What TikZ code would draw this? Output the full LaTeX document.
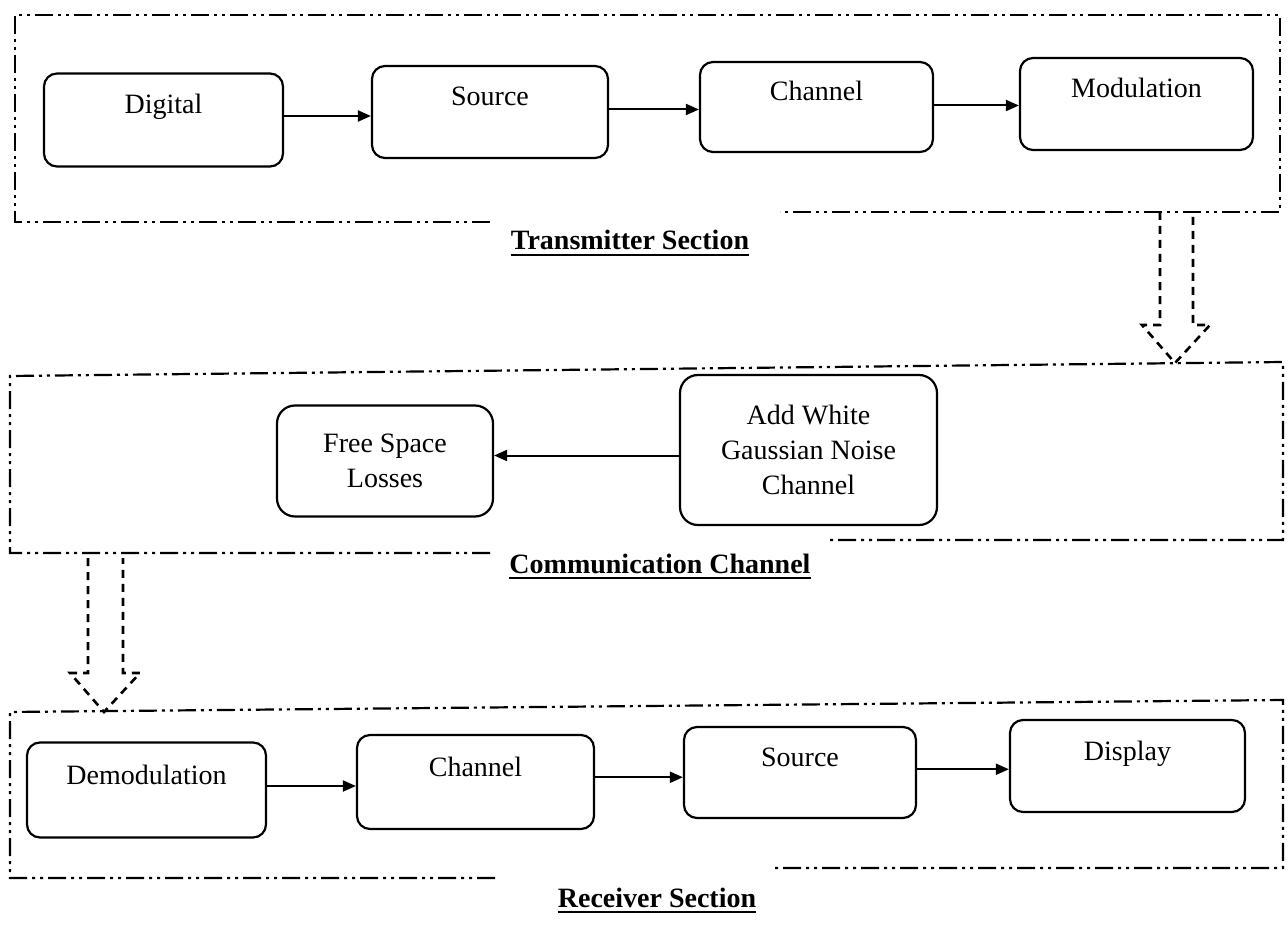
\documentclass[tikz,border=0pt]{standalone}
\usepackage{fontspec}
\setmainfont{Liberation Serif}
\usetikzlibrary{arrows.meta,calc}

\begin{document}
\begin{tikzpicture}[x=1pt, y=-1pt,
  frame/.style={line width=2.2pt, dash pattern=on 18pt off 5pt on 3pt off 5pt on 3pt off 5pt},
  hollowarrow/.style={line width=2.6pt, dash pattern=on 8pt off 6pt, line join=miter},
  block/.style={draw, line width=2.2pt, rounded corners=13pt, inner sep=4pt,
    font=\fontsize{28}{33}\selectfont, text height=19pt, text depth=31pt},
  tallblock/.style={draw, line width=2.2pt, rounded corners=18pt, inner sep=4pt,
    align=center, font=\fontsize{28}{35}\selectfont},
  flow/.style={line width=2pt, -{Triangle[length=13pt, width=11pt]}},
  sectitle/.style={anchor=base, inner xsep=0pt, font=\bfseries\fontsize{28}{32}\selectfont}
]
\useasboundingbox (0,0) rectangle (1288,944);
\fill[white] (0,0) rectangle (1288,944);

% horizontal connector at mid height between two blocks
\newcommand\link[2]{%
  \coordinate (m) at ($(#1.east)!0.5!(#2.west)$);
  \draw[flow] (#1.east |- m) -- (#2.west |- m);}

% ---- Transmitter section ----
\draw[frame] (490,222) -- (15,222) -- (15,15) -- (1280,15) -- (1280,212) -- (780,212);
\node[block, minimum width=239pt, minimum height=93pt] (dig)  at (163.5,120) {Digital};
\node[block, minimum width=236pt, minimum height=92pt] (tsrc) at (490,112)  {Source};
\node[block, minimum width=233pt, minimum height=90pt] (tch)  at (816.5,107) {Channel};
\node[block, minimum width=233pt, minimum height=92pt] (mod)  at (1136.5,104) {Modulation};
\link{dig}{tsrc}
\link{tsrc}{tch}
\link{tch}{mod}
\node[sectitle] (ttl) at (630,250) {Transmitter Section};
\draw[line width=2pt] ([yshift=-5pt]ttl.base west) -- ([yshift=-5pt]ttl.base east);

% hollow arrow down into the channel section
\draw[hollowarrow] (1160,212) -- (1160,325) -- (1142,325) -- (1175,363) -- (1210,325) -- (1193,325) -- (1193,212);

% ---- Communication channel ----
\draw[frame] (490,553) -- (10,553) -- (10,376) -- (1283,362) -- (1283,540) -- (830,540);
\node[tallblock, minimum width=216pt, minimum height=111pt] (fsl)  at (385,461) {Free Space\\Losses};
\node[tallblock, minimum width=257pt, minimum height=150pt] (awgn) at (808.5,450) {Add White\\Gaussian Noise\\Channel};
\coordinate (m) at ($(awgn.west)!0.5!(fsl.east)$);
\draw[flow] (awgn.west |- m) -- (fsl.east |- m);
\node[sectitle] (ctl) at (660,573) {Communication Channel};
\draw[line width=2pt] ([yshift=-5pt]ctl.base west) -- ([yshift=-5pt]ctl.base east);

% hollow arrow down into the receiver section
\draw[hollowarrow] (88,558) -- (88,673) -- (70,673) -- (104,712) -- (140,673) -- (123,673) -- (123,558);

% ---- Receiver section ----
\draw[frame] (495,878) -- (10,878) -- (10,712) -- (1283,700) -- (1283,868) -- (775,868);
\node[block, minimum width=239pt, minimum height=95pt] (dem)  at (146.5,790) {Demodulation};
\node[block, minimum width=237pt, minimum height=94pt] (rch)  at (475.5,782) {Channel};
\node[block, minimum width=232pt, minimum height=91pt] (rsrc) at (800,772.5) {Source};
\node[block, minimum width=235pt, minimum height=92pt] (disp) at (1127.5,766) {Display};
\link{dem}{rch}
\link{rch}{rsrc}
\link{rsrc}{disp}
\node[sectitle] (rtl) at (657,907) {Receiver Section};
\draw[line width=2pt] ([yshift=-5pt]rtl.base west) -- ([yshift=-5pt]rtl.base east);
\end{tikzpicture}
\end{document}
